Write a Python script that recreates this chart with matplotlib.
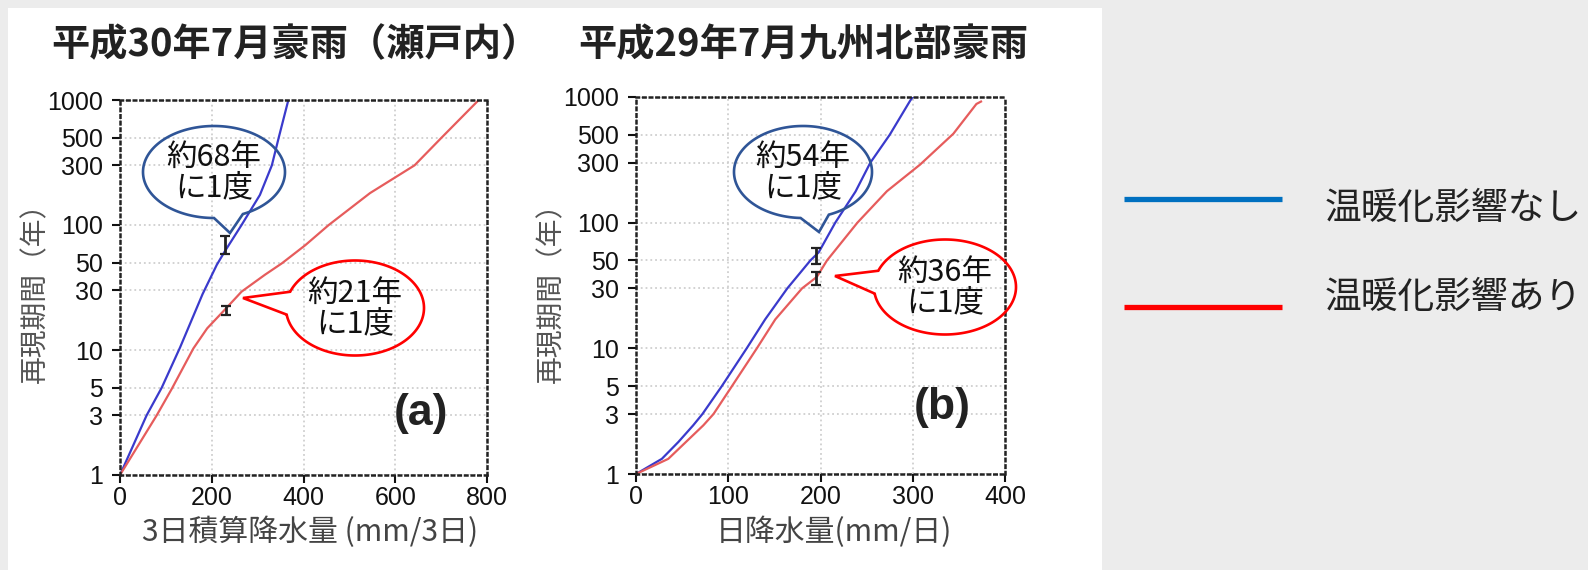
import matplotlib
matplotlib.use("Agg")
import matplotlib.pyplot as plt
from matplotlib.patches import Polygon, Rectangle
from matplotlib.lines import Line2D
import numpy as np

plt.rcParams['font.family'] = ['Noto Sans CJK JP', 'DejaVu Sans']

# ---- data ----
# (a) 平成30年7月豪雨（瀬戸内）: 3-day precipitation vs return period
a_blue_x = [0, 58, 91, 131, 180, 211, 229, 265, 305, 331, 346, 367]
a_blue_y = [1, 3, 5, 10.5, 28, 48, 62, 100, 174, 300, 500, 1000]
a_red_x = [0, 80, 113, 160, 190, 231, 265, 316, 353, 404, 455, 545, 642, 701, 782]
a_red_y = [1, 3, 4.9, 10.3, 14.9, 21.5, 29.3, 40, 49.4, 69, 100, 180, 300, 500, 1000]
a_err_x = [229, 230]
a_err_y = [68, 21]
a_err_lo = [59, 19]
a_err_hi = [81, 22.5]

# (b) 平成29年7月九州北部豪雨: daily precipitation vs return period
b_blue_x = [0, 28, 46, 62, 72, 93, 120, 140, 164, 189, 198, 216, 238, 254, 275, 297, 300]
b_blue_y = [1, 1.32, 1.8, 2.44, 3, 5, 10, 17, 30, 50, 58, 100, 177, 300, 500, 930, 1000]
b_red_x = [0, 35, 73, 84, 104, 131, 151, 180, 196, 207, 240, 272, 308, 344, 369, 374]
b_red_y = [1, 1.32, 2.44, 3, 5, 10, 17, 30, 37, 50, 100, 178, 290, 510, 880, 920]
b_err_x = [195, 195]
b_err_y = [54, 36]
b_err_lo = [47, 32]
b_err_hi = [63, 40.5]

y_ticks = [1, 3, 5, 10, 30, 50, 100, 300, 500, 1000]
titles = ["平成30年7月豪雨（瀬戸内）", "平成29年7月九州北部豪雨"]
xlabels = ["3日積算降水量 (mm/3日)", "日降水量(mm/日)"]
ylabel = "再現期間（年）"
panel_tags = ["(a)", "(b)"]
bubble_texts = [["約68年\nに1度", "約21年\nに1度"], ["約54年\nに1度", "約36年\nに1度"]]
legend_labels = ["温暖化影響なし", "温暖化影響あり"]

W, H = 1588, 570


def fx(x):
    return x / W


def fy(y):
    return 1 - y / H


fig = plt.figure(figsize=(W / 100, H / 100), dpi=100)
fig.patch.set_facecolor('#ececec')
fig.add_artist(Rectangle((fx(8), 0), fx(1102) - fx(8), fy(8), transform=fig.transFigure,
                         facecolor='white', edgecolor='none', zorder=-1))


def setup_axes(box, xmax, xticks, xlabel, title, tag, tag_pos, title_x, xlabel_x):
    left, top, right, bottom = box
    ax = fig.add_axes([fx(left), fy(bottom), fx(right) - fx(left), fy(top) - fy(bottom)])
    ax.set_yscale('log')
    ax.set_xlim(0, xmax)
    ax.set_ylim(1, 1000)
    ax.set_yticks(y_ticks)
    ax.set_yticklabels([str(t) for t in y_ticks])
    ax.yaxis.set_minor_locator(matplotlib.ticker.NullLocator())
    ax.set_xticks(xticks)
    ax.tick_params(axis='both', direction='out', length=6, width=1.5, colors='#111111',
                   labelsize=18)
    ax.tick_params(axis='y', pad=6)
    ax.tick_params(axis='x', pad=2)
    for lab in ax.get_xticklabels() + ax.get_yticklabels():
        lab.set_fontfamily('Liberation Sans')
    ax.grid(True, color='#cfcfcf', linestyle=':', linewidth=1.3)
    for sp in ax.spines.values():
        sp.set_linestyle(':')
        sp.set_linewidth(1.8)
        sp.set_color('#222222')
    fig.text(fx(title_x), fy(45), title, ha='center', va='center', fontsize=27.5,
             fontweight='bold', color='#222222')
    fig.text(fx(xlabel_x), fy(532), xlabel, ha='center', va='center', fontsize=21.5,
             color='#444444')
    fig.text(fx(left - 85), fy(286), ylabel, ha='center', va='center', fontsize=20,
             rotation=90, color='#555555')
    fig.text(fx(tag_pos[0]), fy(tag_pos[1]), tag, ha='center', va='center', fontsize=32,
             fontweight='bold', color='#222222', family=['Liberation Sans'])
    return ax


ax_a = setup_axes((120, 100, 487, 475), 800, [0, 200, 400, 600, 800], xlabels[0], titles[0],
                  panel_tags[0], (421, 413), 295, 310)
ax_b = setup_axes((636, 97, 1005, 474), 400, [0, 100, 200, 300, 400], xlabels[1], titles[1],
                  panel_tags[1], (942, 407), 803, 834)

blue_c = '#3a3acc'
red_c = '#e65c5c'
ax_a.plot(a_blue_x, a_blue_y, color=blue_c, lw=1.6)
ax_a.plot(a_red_x, a_red_y, color=red_c, lw=1.6)
ax_b.plot(b_blue_x, b_blue_y, color=blue_c, lw=1.6)
ax_b.plot(b_red_x, b_red_y, color=red_c, lw=1.6)

for ax, ex, ey, lo, hi in [(ax_a, a_err_x, a_err_y, a_err_lo, a_err_hi),
                           (ax_b, b_err_x, b_err_y, b_err_lo, b_err_hi)]:
    ey = np.array(ey)
    yerr = [ey - np.array(lo), np.array(hi) - ey]
    ax.errorbar(ex, ey, yerr=yerr, fmt='none', ecolor='#222222', elinewidth=2,
                capsize=3.5, capthick=1.6, zorder=4)


def bubble(cx, cy, w, h, tip, angles, color, text):
    # speech bubble outline: ellipse arc from angles[1] round to angles[0], then the tip
    a0, a1 = angles
    t = np.radians(np.linspace(a1, a0 + 360, 200))
    px = list(cx + w / 2 * np.cos(t)) + [tip[0]]
    py = list(cy - h / 2 * np.sin(t)) + [tip[1]]
    fig.add_artist(Polygon(np.column_stack([fx(np.array(px)), fy(np.array(py))]), closed=True,
                           transform=fig.transFigure, fill=False, edgecolor=color,
                           lw=1.9, joinstyle='miter', zorder=8))
    fig.text(fx(cx), fy(cy + 1), text, ha='center', va='center', fontsize=22,
             linespacing=0.98, color='#111111', zorder=9)


dark_blue = '#2f5597'
bubble(214, 172, 142, 92, (230, 233), (-90, -66), dark_blue, bubble_texts[0][0])
bubble(355, 308, 138, 95, (243, 298), (160, 188), '#ff0000', bubble_texts[0][1])
bubble(803, 172, 138, 92, (819, 232), (-92, -68), dark_blue, bubble_texts[1][0])
bubble(945, 287, 142, 95, (835, 276), (160, 188), '#ff0000', bubble_texts[1][1])

# legend on the right
for ly, color, label, ty in [(199, '#0070c0', legend_labels[0], 208),
                             (307, '#ff0000', legend_labels[1], 297)]:
    fig.add_artist(Line2D([fx(1124), fx(1282)], [fy(ly), fy(ly)], transform=fig.transFigure,
                          color=color, lw=3.8, solid_capstyle='butt'))
    fig.text(fx(1325), fy(ty), label, ha='left', va='center', fontsize=26.5, color='#222222')

fig.savefig('out.png', dpi=100, facecolor=fig.get_facecolor())
